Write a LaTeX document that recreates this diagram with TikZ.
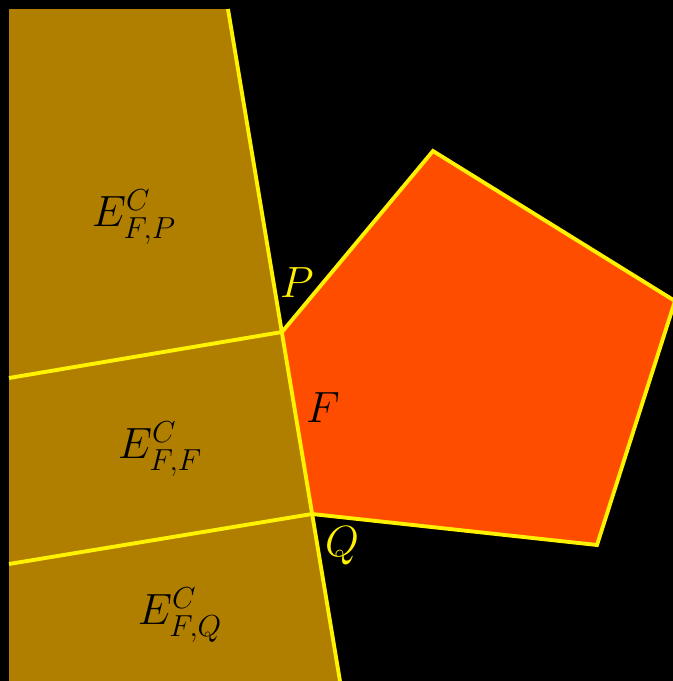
\documentclass[tikz,border=0pt]{standalone}
\usepackage{amsmath}
\definecolor{cellgold}{RGB}{176,127,0}
\definecolor{faceorange}{RGB}{255,77,0}
\begin{document}
\begin{tikzpicture}[x=0.02cm, y=-0.02cm,
    edge/.style={draw=yellow, line width=2.2pt},
    cell/.style={fill=cellgold},
    face/.style={fill=faceorange},
    lbl/.style={font=\fontsize{24}{29}\selectfont, inner sep=0pt},
    ptlbl/.style={font=\Huge, text=yellow, inner sep=0pt}
]

\clip (0,0) rectangle (673,681);
\fill[black] (0,0) rectangle (673,681);

% points of the picture
\coordinate (T)  at (228,9);
\coordinate (B)  at (340,681);
\coordinate (P)  at (282,332);
\coordinate (Q)  at (312,514);
\coordinate (L1) at (9,378);
\coordinate (L2) at (9,564);
\coordinate (V1) at (433,151);
\coordinate (V2) at (675,301);
\coordinate (V3) at (597,545);

% cells and face
\fill[cell] (9,9) -- (T) -- (B) -- (9,681) -- cycle;
\fill[face] (P) -- (V1) -- (V2) -- (V3) -- (Q) -- cycle;

% edges
\draw[edge] (T) -- (B);
\draw[edge] (L1) -- (P);
\draw[edge] (L2) -- (Q);
\draw[edge] (P) -- (V1) -- (V2) -- (V3) -- (Q);

% labels
\node[lbl] (ep) at (134,217) {$E^{C}_{F,P}$};
\node[lbl] (ef) at (160,449) {$E^{C}_{F,F}$};
\node[lbl] (eq) at (180,615) {$E^{C}_{F,Q}$};
\node[lbl, font=\Huge] (f)  at (323,408) {$F$};
\node[ptlbl] (p) at (297,283) {$P$};
\node[ptlbl] (q) at (342,546) {$Q$};

\end{tikzpicture}
\end{document}
